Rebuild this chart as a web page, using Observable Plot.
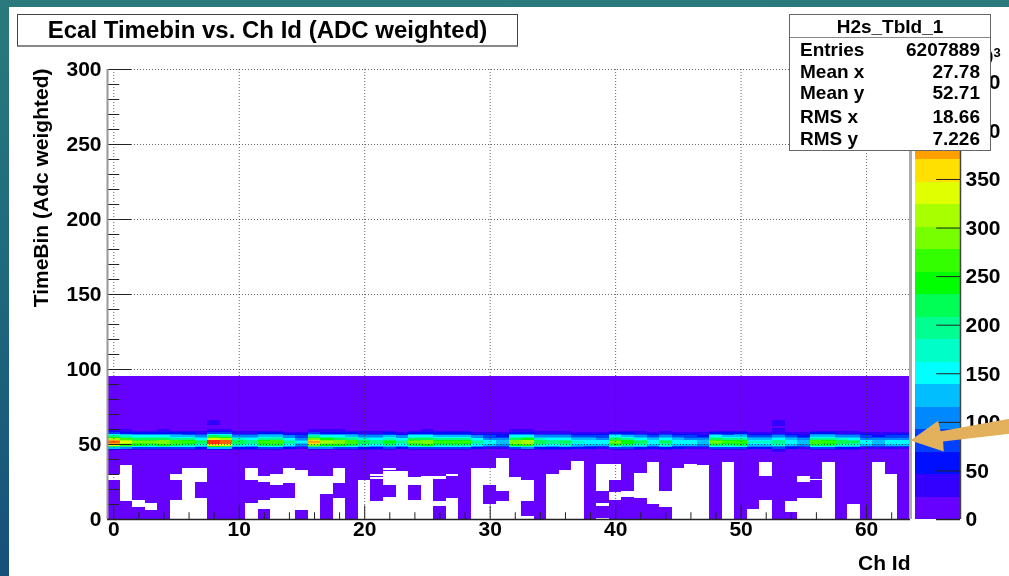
<!DOCTYPE html>
<html><head><meta charset="utf-8">
<script src="https://cdn.jsdelivr.net/npm/d3@7"></script>
<script src="https://cdn.jsdelivr.net/npm/@observablehq/plot@0.6"></script>
<style>
html,body{margin:0;padding:0;width:1009px;height:576px;overflow:hidden;}
body{position:relative;background:linear-gradient(180deg,#2a7a7c 0%,#1f6a7c 45%,#17507a 100%);font-family:"Liberation Sans",Arial,sans-serif;}
#panel{position:absolute;left:9px;top:7px;right:0;bottom:0;background:#fff;}
#barHost,#mainHost{position:absolute;left:0;top:0;filter:blur(0.4px);}
#titleBox{position:absolute;left:17px;top:14px;width:499px;height:30px;border:1px solid #444;border-bottom:2px solid #888;background:#fff;box-sizing:content-box;text-align:center;font-weight:bold;font-size:24px;line-height:29px;color:#000;white-space:nowrap;filter:blur(0.3px);}
#stats{position:absolute;left:789px;top:14px;width:200px;height:135px;border:1.5px solid #666;background:#fff;color:#000;font-size:19px;font-weight:bold;box-sizing:content-box;filter:blur(0.3px);}
#stats .head{position:absolute;left:0;right:0;top:0;height:22px;line-height:23px;text-align:center;border-bottom:1.5px solid #888;}
#stats .k{position:absolute;left:10px;white-space:nowrap;line-height:20px;}
#stats .v{position:absolute;right:10px;white-space:nowrap;line-height:20px;}
</style></head>
<body>
<div id="panel"></div>
<div id="barHost"></div>
<div id="mainHost"></div>
<div id="titleBox">Ecal Timebin vs. Ch Id (ADC weighted)</div>
<div id="stats"></div>
<script>
const titleStats = "H2s_TbId_1";
const statNames = ["Entries","Mean x","Mean y","RMS x","RMS y"];
const statValues = ["6207889","27.78","52.71","18.66","7.226"];
const statRows = [25,47,68,92,114];

const xMajor = [0,10,20,30,40,50,60];
const xMinor = d3.range(0,64,2).filter(d=>d%10!==0);
const yMajor = [0,50,100,150,200,250,300];
const yMinor = d3.range(0,301,10).filter(d=>d%50!==0);
const barTicks = [0,50,100,150,200,250,300,350,400,450];

const palette = ["#6600ff","#3300ff","#0010ff","#0040ff","#0088ff","#00beff","#00ffff","#00ffc8","#00ff90","#00ff55","#00ff00","#33ff00","#77ff00","#a8ff00","#e0ff00","#ffe000","#ffa000","#ff6000","#ff3000","#ff0000"];
const levelStep = 23.16;
const channels = d3.range(64);
const dataTop = 95.33;
const lowValue = 10;

// white (empty) spans per channel, [from, to) in time bins
const whiteSpans = [
 [[26,30]],[[12,36]],[[8,13]],[[6,11]],[],[[0,13],[26,30]],[[0,34]],[[0,14],[25,34]],
 [],[],[],[[0,11],[26,34]],[[7,13],[25,29]],[[0,14],[23,30]],[[0,14],[24,34]],[[6,33]],
 [[0,29]],[[17,29]],[[0,14],[24,34]],[],[[0,26]],[[0,12],[27,28],[29,30]],[[0,15],[23,32],[33,34]],[[0,32]],
 [[0,13],[23,28]],[[0,29]],[[9,12],[27,29]],[[0,14],[29,30]],[],[[0,34]],[[0,10],[23,34]],[[0,12],[19,41]],
 [[0,28]],[[0,2],[12,26]],[],[[0,30]],[[0,33]],[[0,39]],[],[[0,1],[9,11],[19,37]],
 [[13,18],[26,37]],[[15,19]],[[14,31]],[[10,38]],[[8,19]],[[0,34]],[[0,37]],[[0,36]],
 [],[[0,38]],[],[[0,7]],[[0,13],[29,38]],[],[[5,12]],[[0,14],[25,29]],
 [[0,14],[26,27]],[[0,38]],[],[[0,10]],[],[[0,38]],[[0,30]],[]
];

// band counts per channel, for time bins 45..59
const bandStart = 45;
const band = [
 [21,49,123,226,328,390,410,390,308,246,205,144,82,49,33],
 [17,41,102,187,272,323,340,323,255,204,170,119,68,41,27],
 [15,35,87,160,232,276,290,276,218,174,145,102,58,35,23],
 [14,34,84,154,224,266,280,266,210,168,140,98,56,34,22],
 [15,36,90,165,240,285,300,285,225,180,150,105,60,36,24],
 [14,32,81,149,216,257,270,257,203,162,135,95,54,32,22],
 [13,31,78,143,208,247,260,247,195,156,130,91,52,31,21],
 [11,26,65,118,172,204,215,204,161,129,108,75,43,26,17],
 [22,53,132,242,352,418,440,418,330,264,220,154,88,53,35],
 [21,50,125,228,332,394,415,394,311,249,208,145,83,50,33],
 [11,26,66,121,176,209,220,209,165,132,110,77,44,26,18],
 [10,24,60,110,160,190,200,190,150,120,100,70,40,24,16],
 [13,32,80,146,212,252,265,252,199,159,133,93,53,32,21],
 [14,33,83,151,220,261,275,261,206,165,138,96,55,33,22],
 [10,23,57,105,152,181,190,181,143,114,95,67,38,23,15],
 [7,17,42,77,112,133,140,133,105,84,70,49,28,17,11],
 [19,45,113,206,300,356,375,356,281,225,188,131,75,45,30],
 [16,37,93,171,248,295,310,295,233,186,155,109,62,37,25],
 [15,36,90,165,240,285,300,285,225,180,150,105,60,36,24],
 [14,33,83,151,220,261,275,261,206,165,138,96,55,33,22],
 [11,27,68,124,180,214,225,214,169,135,113,79,45,27,18],
 [10,24,60,110,160,190,200,190,150,120,100,70,40,24,16],
 [12,29,72,132,192,228,240,228,180,144,120,84,48,29,19],
 [10,23,57,105,152,181,190,181,143,114,95,67,38,23,15],
 [14,34,84,154,224,266,280,266,210,168,140,98,56,34,22],
 [15,36,90,165,240,285,300,285,225,180,150,105,60,36,24],
 [13,31,78,143,208,247,260,247,195,156,130,91,52,31,21],
 [13,31,77,140,204,242,255,242,191,153,128,89,51,31,20],
 [13,31,78,143,208,247,260,247,195,156,130,91,52,31,21],
 [10,23,57,105,152,181,190,181,143,114,95,67,38,23,15],
 [8,18,45,83,120,143,150,143,113,90,75,53,30,18,12],
 [7,16,41,74,108,128,135,128,101,81,68,47,27,16,11],
 [15,36,90,165,240,285,300,285,225,180,150,105,60,36,24],
 [16,38,96,176,256,304,320,304,240,192,160,112,64,38,26],
 [11,26,66,121,176,209,220,209,165,132,110,77,44,26,18],
 [10,24,60,110,160,190,200,190,150,120,100,70,40,24,16],
 [11,25,63,116,168,200,210,200,158,126,105,74,42,25,17],
 [9,20,51,94,136,162,170,162,128,102,85,60,34,20,14],
 [8,19,48,88,128,152,160,152,120,96,80,56,32,19,13],
 [8,18,45,83,120,143,150,143,113,90,75,53,30,18,12],
 [14,34,84,154,224,266,280,266,210,168,140,98,56,34,22],
 [13,30,75,138,200,238,250,238,188,150,125,88,50,30,20],
 [11,25,63,116,168,200,210,200,158,126,105,74,42,25,17],
 [8,19,48,88,128,152,160,152,120,96,80,56,32,19,13],
 [11,25,63,116,168,200,210,200,158,126,105,74,42,25,17],
 [8,19,48,88,128,152,160,152,120,96,80,56,32,19,13],
 [8,18,45,83,120,143,150,143,113,90,75,53,30,18,12],
 [7,16,39,72,104,124,130,124,98,78,65,46,26,16,10],
 [14,34,84,154,224,266,280,266,210,168,140,98,56,34,22],
 [13,31,78,143,208,247,260,247,195,156,130,91,52,31,21],
 [13,32,80,146,212,252,265,252,199,159,133,93,53,32,21],
 [9,20,51,94,136,162,170,162,128,102,85,60,34,20,14],
 [9,20,51,94,136,162,170,162,128,102,85,60,34,20,14],
 [25,40,70,115,165,190,200,190,150,120,100,70,45,35,28],
 [8,19,48,88,128,152,160,152,120,96,80,56,32,19,13],
 [7,16,39,72,104,124,130,124,98,78,65,46,26,16,10],
 [14,32,81,149,216,257,270,257,203,162,135,95,54,32,22],
 [13,32,80,146,212,252,265,252,199,159,133,93,53,32,21],
 [11,26,66,121,176,209,220,209,165,132,110,77,44,26,18],
 [11,25,63,116,168,200,210,200,158,126,105,74,42,25,17],
 [8,18,45,83,120,143,150,143,113,90,75,53,30,18,12],
 [7,16,39,72,104,124,130,124,98,78,65,46,26,16,10],
 [8,18,45,83,120,143,150,143,113,90,75,53,30,18,12],
 [8,18,45,83,120,143,150,143,113,90,75,53,30,18,12]
];
// isolated cells above the band
const spotChannels = [8,8,8,53,53,53,53,53];
const spotBins =     [63,64,65,60,62,63,64,65];
const spotValues =   [35,35,35,30,35,40,40,40];

// annotation arrow outline, in chart units
const arrowX = [63.5,65.7,65.9,71.4,71.4,66.1,66.15];
const arrowY = [52.7,65.8,58.9,67.1,57.1,52,45.3];

const thresholds = d3.range(1,palette.length).map(i=>i*levelStep);
const colorScale = {type:"threshold",domain:thresholds,range:palette};
const spots = new Map(spotChannels.map((c,i)=>[c+":"+spotBins[i],spotValues[i]]));

const cells = [];
for (const c of channels) {
  for (let b=0;b<dataTop;b++) {
    if (whiteSpans[c].some(([a,z])=>b>=a&&b<z)) continue;
    let v = lowValue;
    if (b>=bandStart && b<bandStart+band[c].length) v = band[c][b-bandStart];
    const key = c+":"+b;
    if (spots.has(key)) v = spots.get(key);
    cells.push({c,b,v,top:Math.min(b+1,dataTop)});
  }
}
const arrow = arrowX.map((x,i)=>({x,y:arrowY[i]}));

const fontStyle = {background:"transparent",fontFamily:"'Liberation Sans',Arial,sans-serif",fontWeight:"bold",fontSize:"21px",color:"#000",overflow:"visible"};
const tickColor = "#222";
const xMin=-0.5,xMax=63.5;

const main = Plot.plot({
  width:1009,height:576,marginLeft:107,marginRight:99,marginTop:69,marginBottom:57,
  style:fontStyle,
  x:{domain:[xMin,xMax]},
  y:{domain:[0,300]},
  color:colorScale,
  marks:[
    Plot.rect(cells,{x1:d=>d.c-0.5,x2:d=>d.c+0.5,y1:d=>d.b,y2:"top",fill:"v",shapeRendering:"crispEdges"}),
    Plot.ruleX(xMajor,{stroke:"#333",strokeOpacity:0.75,strokeDasharray:"1 2",strokeWidth:1}),
    Plot.ruleY(yMajor,{stroke:"#333",strokeOpacity:0.75,strokeDasharray:"1 2",strokeWidth:1}),
    Plot.ruleX(xMajor,{y1:0,y2:9,stroke:tickColor}),
    Plot.ruleX(xMinor,{y1:0,y2:4.5,stroke:tickColor}),
    Plot.ruleY(yMajor,{x1:xMin,x2:xMin+1.92,stroke:tickColor}),
    Plot.ruleY(yMinor,{x1:xMin,x2:xMin+0.98,stroke:tickColor}),
    Plot.ruleX([xMin],{stroke:"#999",strokeWidth:2}),
    Plot.ruleX([xMax],{stroke:"#aaa",strokeWidth:3}),
    Plot.ruleY([0],{stroke:"#222",strokeWidth:1.5}),
    Plot.axisX(xMajor,{tickSize:0,tickPadding:2,label:null}),
    Plot.axisY(yMajor,{tickSize:0,tickPadding:6,label:null}),
    Plot.text(["Ch Id"],{frameAnchor:"bottom-right",textAnchor:"end",lineAnchor:"middle",dy:44,fill:"#000"}),
    Plot.text(["TimeBin (Adc weighted)"],{frameAnchor:"top-left",rotate:-90,textAnchor:"end",lineAnchor:"middle",dx:-66,dy:-1,fill:"#000"}),
    Plot.line(arrow,{x:"x",y:"y",fill:"#e3b05c",stroke:"none",curve:"linear"})
  ]
});
document.getElementById("mainHost").append(main);

const barMax = 463.2;
const barCells = palette.map((p,i)=>({lo:i*levelStep,hi:(i+1)*levelStep,v:(i+0.5)*levelStep}));
const bar = Plot.plot({
  width:1009,height:576,marginLeft:915,marginRight:49,marginTop:69,marginBottom:57,
  style:fontStyle,
  x:{domain:[0,1],axis:null},
  y:{domain:[0,barMax]},
  color:colorScale,
  marks:[
    Plot.rect(barCells,{x1:0,x2:1,y1:"lo",y2:"hi",fill:"v",shapeRendering:"crispEdges"}),
    Plot.ruleY(barTicks,{x1:0.47,x2:1,stroke:"#222"}),
    Plot.ruleX([1],{stroke:"#444",strokeWidth:1.5}),
    Plot.ruleY([0],{x1:0.47,x2:1,stroke:"#222",strokeWidth:1.5}),
    Plot.axisY(barTicks,{anchor:"right",tickSize:0,tickPadding:5,label:null}),
    Plot.text(["×10"],{frameAnchor:"top-right",textAnchor:"end",lineAnchor:"middle",dx:33,dy:-12,fill:"#000"}),
    Plot.text(["3"],{frameAnchor:"top-right",textAnchor:"start",lineAnchor:"middle",dx:33,dy:-17,fontSize:13,fill:"#000"})
  ]
});
document.getElementById("barHost").append(bar);

const st = document.getElementById("stats");
const head = document.createElement("div"); head.className="head"; head.textContent=titleStats; st.append(head);
statNames.forEach((n,i)=>{
  const k=document.createElement("div");k.className="k";k.textContent=n;k.style.top=statRows[i]+"px";st.append(k);
  const v=document.createElement("div");v.className="v";v.textContent=statValues[i];v.style.top=statRows[i]+"px";st.append(v);
});
</script>
</body></html>
